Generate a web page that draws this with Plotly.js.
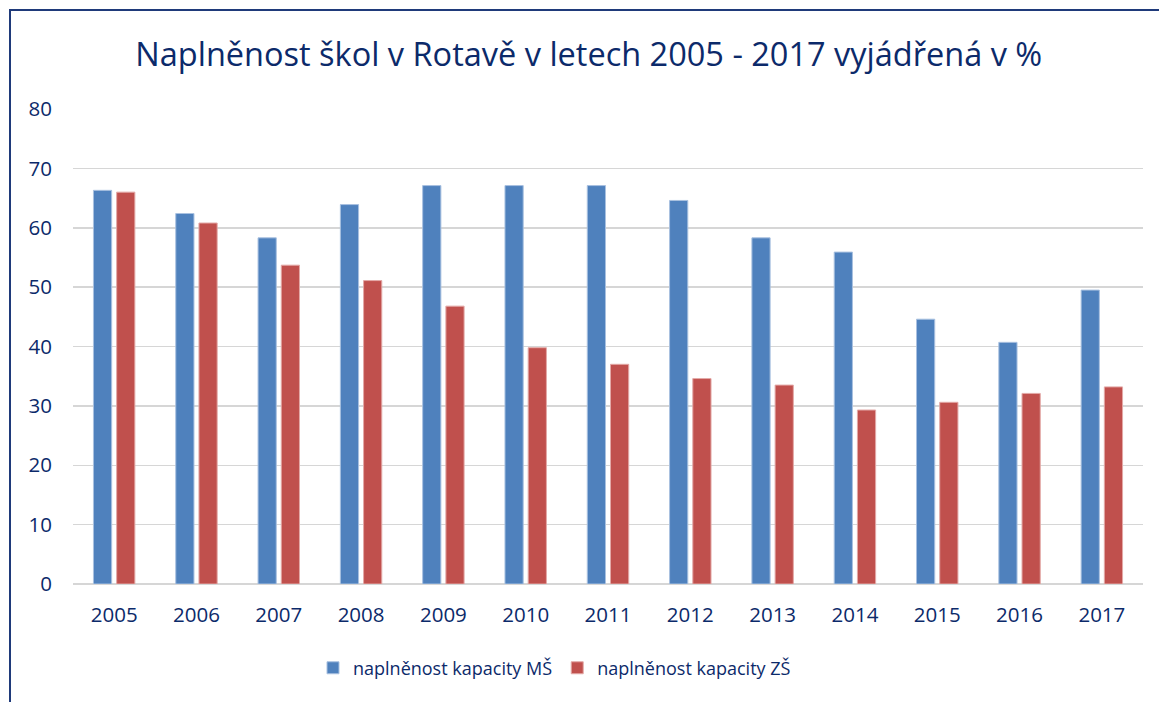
<!DOCTYPE html>
<html>
<head>
<meta charset="utf-8">
<script src="https://cdn.plot.ly/plotly-3.0.1.min.js"></script>
<style>
  html, body { margin: 0; padding: 0; background: #fff; }
  #chart { width: 1159px; height: 702px; position: absolute; left: 0; top: 0; }
  #frame { position: absolute; left: 9px; top: 9px; width: 1200px; height: 800px;
           border-left: 2px solid #1F3A7A; border-top: 2px solid #1F3A7A; pointer-events: none; }
</style>
</head>
<body>
<div id="chart"></div>
<div id="frame"></div>
<script>
const years = ["2005","2006","2007","2008","2009","2010","2011","2012","2013","2014","2015","2016","2017"];
const ms = [66.3, 62.4, 58.3, 63.9, 67.1, 67.1, 67.1, 64.6, 58.3, 55.9, 44.6, 40.7, 49.5];
const zs = [66.0, 60.8, 53.7, 51.1, 46.8, 39.8, 37.0, 34.6, 33.5, 29.3, 30.6, 32.1, 33.2];
const seriesNames = ["naplněnost kapacity MŠ", "naplněnost kapacity ZŠ"];
const yTicks = [0, 10, 20, 30, 40, 50, 60, 70, 80];

const navy = "#0C2A6A";
const font = "Open Sans, Noto Sans, sans-serif";

const traces = [
  { type: "bar", x: years, y: ms, name: seriesNames[0],
    marker: { color: "#4F81BD", line: { color: "#A9C1E0", width: 1 } } },
  { type: "bar", x: years, y: zs, name: seriesNames[1],
    marker: { color: "#C0504D", line: { color: "#E3A9A7", width: 1 } } }
];

const layout = {
  width: 1159, height: 702,
  margin: { l: 73, r: 16, t: 109, b: 118 },
  paper_bgcolor: "#fff", plot_bgcolor: "#fff",
  font: { family: font, color: navy, size: 20 },
  title: { text: "Naplněnost škol v Rotavě v letech 2005 - 2017 vyjádřená v %",
           font: { family: font, size: 32.5, color: navy },
           x: 0.508, xanchor: "center", y: 0.922, yanchor: "middle" },
  barmode: "group", bargap: 0.436, bargroupgap: 0.215,
  showlegend: true,
  legend: { orientation: "h", x: 0.45, xanchor: "center", y: -0.177, yanchor: "middle",
            font: { family: font, size: 18, color: navy }, itemclick: false },
  xaxis: { type: "category", showgrid: false, zeroline: false, showline: false,
           ticks: "", ticklabelstandoff: 16, tickfont: { size: 20.5, color: navy } },
  yaxis: { range: [0, 80], tickvals: yTicks, ticktext: yTicks.map(String),
           showgrid: true, gridcolor: "#D6D6D6", gridwidth: 1.5,
           zeroline: true, zerolinecolor: "#D6D6D6", zerolinewidth: 2,
           showline: false, ticks: "", ticklabelstandoff: 20,
           tickfont: { size: 20.5, color: navy } }
};

Plotly.newPlot("chart", traces, layout, { staticPlot: true, displayModeBar: false });
</script>
</body>
</html>
